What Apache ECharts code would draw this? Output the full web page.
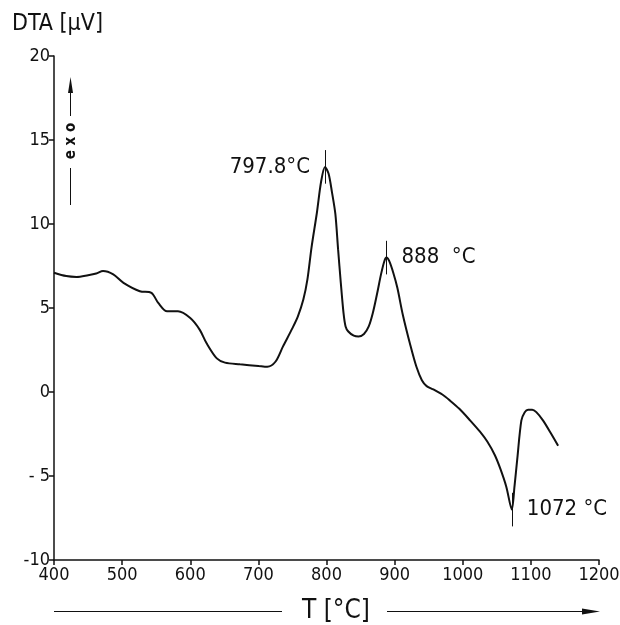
<!DOCTYPE html>
<html>
<head>
<meta charset="utf-8">
<script src="https://cdn.jsdelivr.net/npm/echarts@6/dist/echarts.min.js"></script>
<style>
  html, body { margin: 0; padding: 0; background: #fff; }
  #chart { width: 620px; height: 625px; }
</style>
</head>
<body>
<div id="chart"></div>
<script>
// DTA trace: temperature (°C) and signal (µV)
const tempC = [400, 418, 433, 450, 462, 472, 487, 502, 526, 543, 553, 566, 582, 600, 614, 624, 639, 651, 673, 700,
  713, 725, 736, 750, 758, 766, 772, 778, 786, 792, 797.8, 803, 808, 813, 817, 821, 825, 828, 832, 840,
  847, 855, 862, 868, 874, 880, 885, 888, 892, 898, 904, 912, 923, 932, 940, 947, 957, 970, 981, 995,
  1011, 1025, 1036, 1047, 1055, 1064, 1072, 1076, 1080, 1086, 1091, 1096, 1102, 1108, 1118, 1130, 1140];
const dtaUV = [7.1, 6.9, 6.85, 6.95, 7.05, 7.2, 7.0, 6.5, 6.0, 5.9, 5.3, 4.8, 4.8, 4.4, 3.7, 2.9, 2.0, 1.75, 1.65, 1.55,
  1.5, 1.8, 2.7, 3.8, 4.5, 5.5, 6.7, 8.6, 10.7, 12.5, 13.4, 13.0, 11.9, 10.6, 8.5, 6.5, 4.7, 3.9, 3.6, 3.35,
  3.3, 3.45, 3.9, 4.7, 5.8, 7.0, 7.8, 8.0, 7.8, 7.1, 6.2, 4.6, 2.8, 1.5, 0.7, 0.35, 0.15, -0.15, -0.5, -1.0,
  -1.7, -2.35, -2.95, -3.75, -4.55, -5.65, -7.0, -5.6, -4.0, -1.7, -1.2, -1.05, -1.05, -1.2, -1.7, -2.5, -3.2];

// marked peak temperatures and their labels
const peakT = [797.8, 888, 1072];
const peakLabels = ['797.8°C', '888  °C', '1072 °C'];

// axis ticks
const xTicks = [400, 500, 600, 700, 800, 900, 1000, 1100, 1200];
const yTicks = [-10, -5, 0, 5, 10, 15, 20];

const FONT = '"DejaVu Sans Condensed", "DejaVu Sans", sans-serif';
const INK = '#111';

const series = tempC.map((t, i) => [t, dtaUV[i]]);
const peakPts = peakT.map(t => [t, dtaUV[tempC.indexOf(t)]]);
const labelPos = ['left', 'right', 'right'];

const chart = echarts.init(document.getElementById('chart'), null, { renderer: 'canvas' });

chart.setOption({
  animation: false,
  backgroundColor: '#fff',
  grid: { left: 54, right: 21, top: 56, bottom: 65, containLabel: false, outerBoundsMode: 'none' },
  xAxis: {
    type: 'value',
    min: xTicks[0], max: xTicks[xTicks.length - 1], interval: 100,
    axisLine: { onZero: false, lineStyle: { color: INK, width: 1.5 } },
    axisTick: { show: true, length: 5, lineStyle: { color: INK, width: 1.5 } },
    axisLabel: { color: INK, fontFamily: FONT, fontSize: 18, margin: 6, formatter: v => String(v) },
    splitLine: { show: false }
  },
  yAxis: {
    type: 'value',
    min: yTicks[0], max: yTicks[yTicks.length - 1], interval: 5,
    axisLine: { show: true, lineStyle: { color: INK, width: 1.5 } },
    axisTick: { show: true, length: 5, lineStyle: { color: INK, width: 1.5 } },
    axisLabel: {
      color: INK, fontFamily: FONT, fontSize: 18, margin: 4,
      formatter: v => (v < 0 && v > -10) ? '- ' + Math.abs(v) : (v < 0 ? '-' + Math.abs(v) : String(v))
    },
    splitLine: { show: false }
  },
  series: [
    {
      type: 'line',
      data: series,
      showSymbol: false,
      smooth: 0.3,
      lineStyle: { color: INK, width: 2 },
      markLine: {
        silent: true,
        symbol: 'none',
        label: { show: false },
        lineStyle: { color: INK, width: 1, type: 'solid' },
        data: peakPts.map(p => [{ coord: [p[0], p[1] - 1.0] }, { coord: [p[0], p[1] + 1.0] }])
      }
    },
    {
      type: 'scatter',
      data: peakPts.map((p, i) => ({
        value: p,
        label: {
          show: true,
          position: labelPos[i],
          distance: 15,
          formatter: peakLabels[i],
          color: INK,
          fontFamily: FONT,
          fontSize: 22
        }
      })),
      symbolSize: 0,
      itemStyle: { opacity: 1, color: INK },
      silent: true
    }
  ],
  graphic: [
    // y-axis title
    { type: 'text', left: 12, top: 13,
      style: { text: 'DTA [µV]', fill: INK, font: '23px ' + FONT } },
    // exo direction arrow
    { type: 'line', shape: { x1: 70.5, y1: 205, x2: 70.5, y2: 168 }, style: { stroke: INK, lineWidth: 1 } },
    { type: 'line', shape: { x1: 70.5, y1: 116, x2: 70.5, y2: 88 }, style: { stroke: INK, lineWidth: 1 } },
    { type: 'polygon', shape: { points: [[70.5, 77], [68, 93], [73, 93]] }, style: { fill: INK } },
    { type: 'text', x: 71, y: 141, rotation: Math.PI / 2,
      style: { text: 'e x o', fill: INK, font: 'bold 15px ' + FONT, align: 'center', verticalAlign: 'middle' } },
    // x-axis title with direction arrow
    { type: 'line', shape: { x1: 54, y1: 611.5, x2: 282, y2: 611.5 }, style: { stroke: INK, lineWidth: 1 } },
    { type: 'text', x: 336, y: 611,
      style: { text: 'T [°C]', fill: INK, font: '26px ' + FONT, align: 'center', verticalAlign: 'middle' } },
    { type: 'line', shape: { x1: 387, y1: 611.5, x2: 585, y2: 611.5 }, style: { stroke: INK, lineWidth: 1 } },
    { type: 'polygon', shape: { points: [[600, 611.5], [582, 608.5], [582, 614.5]] }, style: { fill: INK } }
  ]
});
</script>
</body>
</html>
